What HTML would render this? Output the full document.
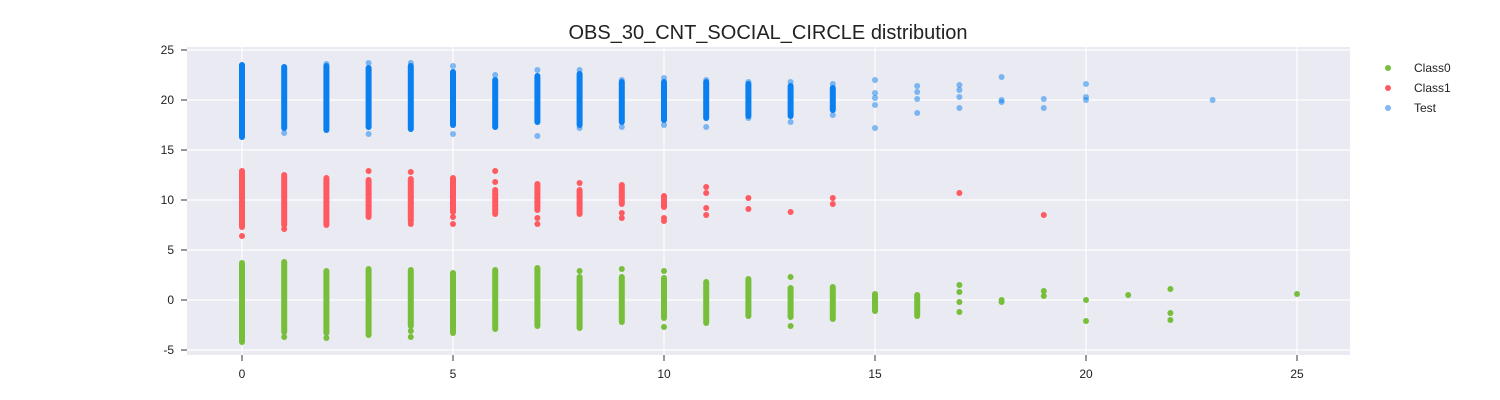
<!DOCTYPE html>
<html><head><meta charset="utf-8"><style>
body{margin:0;background:#fff;}
svg{display:block;font-family:"Liberation Sans","DejaVu Sans",sans-serif;}
</style></head><body>
<svg id="chart" width="1500" height="400">
<text x="768" y="39" text-anchor="middle" font-size="20" fill="#222">OBS_30_CNT_SOCIAL_CIRCLE distribution</text>
<rect x="187" y="47" width="1163" height="308" fill="#eaeaf2"/>
<g id="grid"></g><g id="marks"></g><g id="axes"></g>
<g>
<g><circle cx="1388" cy="68" r="3" fill="#77bf3b"/><text x="1414" y="72" font-size="12" fill="#222">Class0</text></g>
<g><circle cx="1388" cy="88" r="3" fill="#ff5a5f"/><text x="1414" y="92" font-size="12" fill="#222">Class1</text></g>
<g><circle cx="1388" cy="108" r="3" fill="#7fb8f5"/><text x="1414" y="112" font-size="12" fill="#222">Test</text></g>
</g>
</svg>
<script>
const xTicks=[0,5,10,15,20,25];
const yTicks=[-5,0,5,10,15,20,25];
// dense column ranges
const c0Cats=[0,1,2,3,4,5,6,7,8,9,10,11,12,13,14,15,16];
const c0Max=[3.7,3.8,2.9,3.1,3.0,2.7,3.0,3.2,2.3,2.3,2.2,1.8,2.1,1.2,1.3,0.6,0.5];
const c0Min=[-4.2,-3.2,-3.3,-3.5,-2.6,-3.3,-2.9,-2.6,-2.8,-2.2,-1.8,-2.3,-1.6,-1.7,-1.9,-1.1,-1.6];
const c0Pts=[[1,-3.7],[2,-3.8],[4,-3.1],[4,-3.7],[8,2.9],[9,3.1],[10,2.9],[10,-2.7],[13,2.3],[13,-2.6],[17,1.5],[17,0.8],[17,-0.2],[17,-1.2],[18,0],[18,-0.2],[19,0.9],[19,0.4],[20,0],[20,-2.1],[21,0.5],[22,1.1],[22,-1.3],[22,-2],[25,0.6]];
const c1Cats=[0,1,2,3,4,5,6,7,8,9,10];
const c1Max=[12.9,12.5,12.2,12.0,12.1,12.2,11.0,11.6,11.0,11.5,10.4];
const c1Min=[7.3,7.5,7.5,8.3,7.9,8.8,8.6,9.0,8.6,9.6,9.3];
const c1Pts=[[0,6.4],[1,7.1],[3,12.9],[4,12.8],[4,7.6],[5,8.3],[5,7.6],[6,12.9],[6,11.8],[7,8.2],[7,7.6],[8,11.7],[9,8.7],[9,8.2],[10,8.2],[10,7.9],[11,11.3],[11,10.7],[11,9.2],[11,8.5],[12,10.2],[12,9.1],[13,8.8],[14,10.2],[14,9.6],[17,10.7],[19,8.5]];
const tCats=[0,1,2,3,4,5,6,7,8,9,10,11,12,13,14];
const tMax=[23.5,23.3,23.4,23.2,23.4,22.8,22.0,22.4,22.6,21.8,21.8,21.8,21.6,21.4,21.2];
const tMin=[16.3,17.2,17.0,17.3,17.1,17.5,17.3,17.8,17.5,17.8,18.0,18.2,18.4,18.4,19.0];
const tPts=[[1,16.7],[2,23.6],[3,23.7],[3,16.6],[4,23.7],[5,23.4],[5,16.6],[6,22.5],[7,23.0],[7,16.4],[8,23.0],[8,17.2],[9,22.0],[9,17.3],[10,22.2],[10,17.5],[11,22.0],[11,17.3],[12,21.8],[12,18.2],[13,21.8],[13,17.8],[14,21.6],[14,18.5],[15,22.0],[15,20.7],[15,20.2],[15,19.5],[15,17.2],[16,21.4],[16,20.8],[16,20.1],[16,18.7],[17,21.5],[17,21.0],[17,20.3],[17,19.2],[18,22.3],[18,20.0],[18,19.8],[19,20.1],[19,19.2],[20,21.6],[20,20.3],[20,20.0],[23,20.0]];
const X=v=>242+v*42.2, Y=v=>300-v*10;
const NS="http://www.w3.org/2000/svg";
function mk(p,t,a){const e=document.createElementNS(NS,t);for(const k in a)e.setAttribute(k,a[k]);p.appendChild(e);return e;}
const grid=document.getElementById('grid'),marks=document.getElementById('marks'),axes=document.getElementById('axes');
xTicks.forEach(t=>{
 const l=mk(grid,'line',{x1:X(t),x2:X(t),y1:47,y2:355,stroke:'#fff','stroke-width':1.2});
 
 
 const tk=mk(axes,'line',{x1:X(t),x2:X(t),y1:355,y2:361,stroke:'#333'});
 
 
 const tx=mk(axes,'text',{x:X(t),y:378,'text-anchor':'middle','font-size':12,fill:'#222'});tx.textContent=t;
 
 
});
yTicks.forEach(t=>{
 const l=mk(grid,'line',{x1:187,x2:1350,y1:Y(t),y2:Y(t),stroke:'#fff','stroke-width':1.2});
 
 
 const tk=mk(axes,'line',{x1:181,x2:187,y1:Y(t),y2:Y(t),stroke:'#333'});
 
 
 const tx=mk(axes,'text',{x:174,y:Y(t)+4,'text-anchor':'end','font-size':12,fill:'#222'});tx.textContent=t;
 
 
});
function series(cats,mx,mn,pts,col,segOp,ptOp,name){
 cats.forEach((c,i)=>{
  const r=mk(marks,'rect',{x:X(c)-3,y:Y(mx[i])-3,width:6,height:Y(mn[i])-Y(mx[i])+6,rx:3,fill:col,'fill-opacity':segOp});
  
  
 });
 pts.forEach(p=>{
  const e=mk(marks,'circle',{cx:X(p[0]),cy:Y(p[1]),r:3,fill:col,'fill-opacity':ptOp});
  
  
 });
}
series(c0Cats,c0Max,c0Min,c0Pts,'#77bf3b',1,1,'class0');
series(c1Cats,c1Max,c1Min,c1Pts,'#ff5a5f',1,1,'class1');
series(tCats,tMax,tMin,tPts,'#0a7ff0',1,0.5,'test');
</script>
</body></html>
